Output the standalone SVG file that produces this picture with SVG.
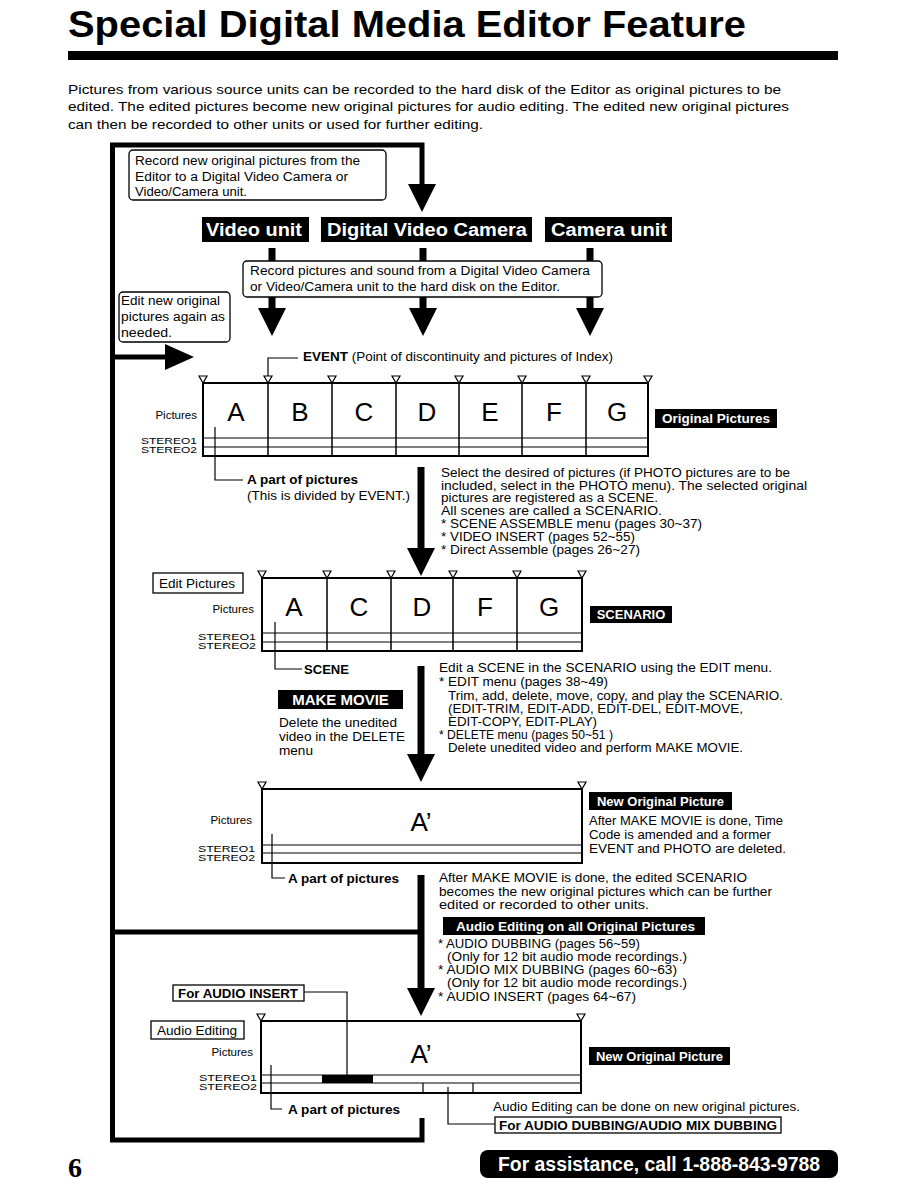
<svg xmlns="http://www.w3.org/2000/svg" width="918" height="1188" viewBox="0 0 918 1188">
<style>
text{font-family:"Liberation Sans",Arial,sans-serif;fill:#000}
.s{font-size:12.5px}
.m{font-size:12.5px}
.p{font-size:13.5px}
.st{font-size:9.5px}
.pic{font-size:11.5px}
.b{font-weight:bold}
.w{fill:#fff;font-weight:bold}
.big{font-size:26px}
.frame{stroke:#000;stroke-width:5;fill:none}
.shaft{stroke:#000;stroke-width:7;fill:none}
.tl{stroke:#000;stroke-width:2;fill:none}
.dv{stroke:#000;stroke-width:1.5;fill:none}
.thin{stroke:#000;stroke-width:1.2;fill:none}
.box{fill:#fff;stroke:#000;stroke-width:1.3}
.blk{fill:#000}
</style>
<defs>
<path id="ah" d="M-14,0 L14,0 L0,28 Z" fill="#000"/>
<path id="tri" d="M-4,-7 L4,-7 L0,0 Z" fill="#fff" stroke="#000" stroke-width="1.2"/>
</defs>

<g id="title">
<text x="68" y="37" font-size="36" font-weight="bold" textLength="678" lengthAdjust="spacingAndGlyphs">Special Digital Media Editor Feature</text>
<rect x="68" y="51" width="770" height="9" class="blk"/>
</g>

<g id="intro">
<text x="68" y="94" class="p" textLength="713" lengthAdjust="spacingAndGlyphs">Pictures from various source units can be recorded to the hard disk of the Editor as original pictures to be</text>
<text x="68" y="111" class="p" textLength="721" lengthAdjust="spacingAndGlyphs">edited. The edited pictures become new original pictures for audio editing. The edited new original pictures</text>
<text x="68" y="129" class="p" textLength="415" lengthAdjust="spacingAndGlyphs">can then be recorded to other units or used for further editing.</text>
</g>

<g id="connectors">
<path class="frame" d="M422,185 V145 H112.5 V1140 H422 V1118"/>
<path class="frame" d="M112.5,932 H421"/>
<path class="frame" d="M112.5,357 H168"/>
<path d="M165,344 L194,357 L165,370 Z" class="blk"/>
<use href="#ah" x="422" y="184"/>
<path class="shaft" d="M272,248 V262 M423,248 V262 M590,248 V262"/>
<path class="shaft" d="M272,297 V310 M423,297 V310 M590,297 V310"/>
<use href="#ah" x="272" y="308"/>
<use href="#ah" x="423" y="308"/>
<use href="#ah" x="590" y="308"/>
<path class="shaft" d="M421,467 V550"/>
<use href="#ah" x="421" y="548"/>
<path class="shaft" d="M421,666 V756"/>
<use href="#ah" x="421" y="754"/>
<path class="shaft" d="M421,875 V990"/>
<use href="#ah" x="421" y="988"/>
<path class="thin" d="M268,377 V358 H298"/>
<path class="thin" d="M215,427 V480 H243"/>
<path class="thin" d="M275,622 V669 H302"/>
<path class="thin" d="M272,834 V878 H285"/>
<path class="thin" d="M304,992 H347 V1075"/>
<path class="thin" d="M271,1065 V1109 H282"/>
<path class="thin" d="M448,1087 V1124 H495"/>
</g>

<g id="note-record-out">
<rect x="129" y="150" width="257" height="50" rx="4" class="box"/>
<text x="135" y="165" class="s" textLength="225" lengthAdjust="spacingAndGlyphs">Record new original pictures from the</text>
<text x="135" y="181" class="s" textLength="213" lengthAdjust="spacingAndGlyphs">Editor to a Digital Video Camera or</text>
<text x="135" y="196" class="s" textLength="112" lengthAdjust="spacingAndGlyphs">Video/Camera unit.</text>
</g>

<g id="video-unit">
<rect x="202" y="217" width="107" height="25" class="blk"/>
<text x="206" y="236" font-size="18" class="w" textLength="96" lengthAdjust="spacingAndGlyphs">Video unit</text>
</g>
<g id="digital-video-camera">
<rect x="321" y="217" width="211" height="25" class="blk"/>
<text x="327" y="236" font-size="18" class="w" textLength="200" lengthAdjust="spacingAndGlyphs">Digital  Video Camera</text>
</g>
<g id="camera-unit">
<rect x="545" y="217" width="127" height="25" class="blk"/>
<text x="551" y="236" font-size="18" class="w" textLength="116" lengthAdjust="spacingAndGlyphs">Camera unit</text>
</g>

<g id="note-record-in">
<rect x="243" y="261" width="359" height="36" rx="4" class="box"/>
<text x="250" y="275" class="s" textLength="340" lengthAdjust="spacingAndGlyphs">Record pictures and sound from a Digital Video Camera</text>
<text x="250" y="291" class="s" textLength="310" lengthAdjust="spacingAndGlyphs">or Video/Camera unit to the hard disk on the Editor.</text>
</g>

<g id="note-edit-again">
<rect x="119" y="292" width="111" height="50" rx="4" class="box"/>
<text x="121" y="305" class="s" textLength="99" lengthAdjust="spacingAndGlyphs">Edit new original</text>
<text x="121" y="321" class="s" textLength="104" lengthAdjust="spacingAndGlyphs">pictures again as</text>
<text x="121" y="337" class="s" textLength="51" lengthAdjust="spacingAndGlyphs">needed.</text>
</g>

<g id="event-label">
<text x="303" y="361" class="s" textLength="310" lengthAdjust="spacingAndGlyphs"><tspan class="b">EVENT</tspan> (Point of discontinuity and pictures of Index)</text>
</g>

<g id="timeline-original">
<rect x="203" y="383" width="445" height="73" class="tl"/>
<path class="dv" d="M268,383 V456 M332,383 V456 M396,383 V456 M459,383 V456 M522,383 V456 M586,383 V456"/>
<path class="thin" d="M203,438 H648 M203,447 H648"/>
<use href="#tri" x="203" y="383"/><use href="#tri" x="268" y="383"/><use href="#tri" x="332" y="383"/><use href="#tri" x="396" y="383"/><use href="#tri" x="459" y="383"/><use href="#tri" x="522" y="383"/><use href="#tri" x="586" y="383"/><use href="#tri" x="648" y="383"/>
<text x="236" y="421" class="big" text-anchor="middle">A</text><text x="300" y="421" class="big" text-anchor="middle">B</text><text x="364" y="421" class="big" text-anchor="middle">C</text><text x="427" y="421" class="big" text-anchor="middle">D</text><text x="490" y="421" class="big" text-anchor="middle">E</text><text x="554" y="421" class="big" text-anchor="middle">F</text><text x="617" y="421" class="big" text-anchor="middle">G</text>
<text x="197" y="419" class="pic" text-anchor="end">Pictures</text>
<text x="141" y="444" class="st" textLength="56" lengthAdjust="spacingAndGlyphs">STEREO1</text>
<text x="141" y="453" class="st" textLength="56" lengthAdjust="spacingAndGlyphs">STEREO2</text>
<text x="247" y="484" class="s b" textLength="111" lengthAdjust="spacingAndGlyphs">A part of pictures</text>
<text x="247" y="500" class="s" textLength="163" lengthAdjust="spacingAndGlyphs">(This is divided by EVENT.)</text>
</g>

<g id="original-pictures">
<rect x="655" y="409" width="122" height="19" class="blk"/>
<text x="716" y="423" font-size="13.5" text-anchor="middle" class="w">Original Pictures</text>
</g>

<g id="select-text">
<text x="441" y="477" class="m" textLength="349" lengthAdjust="spacingAndGlyphs">Select the desired of pictures (if PHOTO pictures are to be</text>
<text x="441" y="490" class="m" textLength="366" lengthAdjust="spacingAndGlyphs">included, select in the PHOTO menu). The selected original</text>
<text x="441" y="502" class="m" textLength="217" lengthAdjust="spacingAndGlyphs">pictures are registered as a SCENE.</text>
<text x="441" y="515" class="m" textLength="221" lengthAdjust="spacingAndGlyphs">All scenes are called a SCENARIO.</text>
<text x="441" y="528" class="m" textLength="261" lengthAdjust="spacingAndGlyphs">* SCENE ASSEMBLE menu (pages 30~37)</text>
<text x="441" y="541" class="m" textLength="194" lengthAdjust="spacingAndGlyphs">* VIDEO INSERT (pages 52~55)</text>
<text x="441" y="554" class="m" textLength="199" lengthAdjust="spacingAndGlyphs">* Direct Assemble (pages 26~27)</text>
</g>

<g id="edit-pictures">
<rect x="153" y="573" width="90" height="20" class="box"/>
<text x="159" y="588" class="m" textLength="76" lengthAdjust="spacingAndGlyphs">Edit Pictures</text>
</g>

<g id="timeline-scenario">
<rect x="262" y="578" width="320" height="73" class="tl"/>
<path class="dv" d="M327,578 V651 M391,578 V651 M453,578 V651 M517,578 V651"/>
<path class="thin" d="M262,633 H582 M262,642 H582"/>
<use href="#tri" x="262" y="578"/><use href="#tri" x="327" y="578"/><use href="#tri" x="391" y="578"/><use href="#tri" x="453" y="578"/><use href="#tri" x="517" y="578"/><use href="#tri" x="582" y="578"/>
<text x="294" y="616" class="big" text-anchor="middle">A</text><text x="359" y="616" class="big" text-anchor="middle">C</text><text x="422" y="616" class="big" text-anchor="middle">D</text><text x="485" y="616" class="big" text-anchor="middle">F</text><text x="549" y="616" class="big" text-anchor="middle">G</text>
<text x="254" y="613" class="pic" text-anchor="end">Pictures</text>
<text x="198" y="640" class="st" textLength="58" lengthAdjust="spacingAndGlyphs">STEREO1</text>
<text x="198" y="649" class="st" textLength="58" lengthAdjust="spacingAndGlyphs">STEREO2</text>
<text x="304" y="674" class="s b" textLength="45" lengthAdjust="spacingAndGlyphs">SCENE</text>
</g>

<g id="scenario">
<rect x="590" y="606" width="82" height="17" class="blk"/>
<text x="631" y="619" font-size="13" text-anchor="middle" class="w">SCENARIO</text>
</g>

<g id="make-movie">
<rect x="278" y="690" width="125" height="19" class="blk"/>
<text x="340.5" y="705" font-size="15" text-anchor="middle" class="w">MAKE MOVIE</text>
<text x="279" y="727" class="m" textLength="118" lengthAdjust="spacingAndGlyphs">Delete the unedited</text>
<text x="279" y="741" class="m" textLength="126" lengthAdjust="spacingAndGlyphs">video in the DELETE</text>
<text x="279" y="755" class="m" textLength="34" lengthAdjust="spacingAndGlyphs">menu</text>
</g>

<g id="edit-text">
<text x="439" y="672" class="m" textLength="333" lengthAdjust="spacingAndGlyphs">Edit a SCENE in the SCENARIO using the EDIT menu.</text>
<text x="439" y="686" class="m" textLength="169" lengthAdjust="spacingAndGlyphs">* EDIT menu (pages 38~49)</text>
<text x="448" y="700" class="m" textLength="335" lengthAdjust="spacingAndGlyphs">Trim, add, delete, move, copy, and play the SCENARIO.</text>
<text x="448" y="713" class="m" textLength="295" lengthAdjust="spacingAndGlyphs">(EDIT-TRIM, EDIT-ADD, EDIT-DEL, EDIT-MOVE,</text>
<text x="448" y="726" class="m" textLength="149" lengthAdjust="spacingAndGlyphs">EDIT-COPY, EDIT-PLAY)</text>
<text x="439" y="739" class="m" textLength="174" lengthAdjust="spacingAndGlyphs">* DELETE menu (pages 50~51 )</text>
<text x="448" y="752" class="m" textLength="295" lengthAdjust="spacingAndGlyphs">Delete unedited video and perform MAKE MOVIE.</text>
</g>

<g id="timeline-new">
<rect x="262" y="789" width="320" height="74" class="tl"/>
<path class="thin" d="M262,845 H582 M262,853 H582"/>
<use href="#tri" x="262" y="789"/><use href="#tri" x="582" y="789"/>
<text x="421" y="831" class="big" text-anchor="middle">A’</text>
<text x="252" y="824" class="pic" text-anchor="end">Pictures</text>
<text x="198" y="852" class="st" textLength="57" lengthAdjust="spacingAndGlyphs">STEREO1</text>
<text x="198" y="861" class="st" textLength="57" lengthAdjust="spacingAndGlyphs">STEREO2</text>
<text x="288" y="883" class="s b" textLength="111" lengthAdjust="spacingAndGlyphs">A part of pictures</text>
</g>

<g id="new-original-1">
<rect x="589" y="792" width="143" height="18" class="blk"/>
<text x="660.5" y="806" font-size="13" text-anchor="middle" class="w">New Original Picture</text>
<text x="589" y="825" class="m" textLength="194" lengthAdjust="spacingAndGlyphs">After MAKE MOVIE is done, Time</text>
<text x="589" y="839" class="m" textLength="182" lengthAdjust="spacingAndGlyphs">Code is amended and a former</text>
<text x="589" y="853" class="m" textLength="197" lengthAdjust="spacingAndGlyphs">EVENT and PHOTO are deleted.</text>
</g>

<g id="after-text">
<text x="439" y="882" class="m" textLength="308" lengthAdjust="spacingAndGlyphs">After MAKE MOVIE is done, the edited SCENARIO</text>
<text x="439" y="896" class="m" textLength="333" lengthAdjust="spacingAndGlyphs">becomes the new original pictures which can be further</text>
<text x="439" y="909" class="m" textLength="210" lengthAdjust="spacingAndGlyphs">edited or recorded to other units.</text>
</g>

<g id="audio-all">
<rect x="443" y="917" width="262" height="18" class="blk"/>
<text x="456" y="931" font-size="13" class="w" textLength="239" lengthAdjust="spacingAndGlyphs">Audio Editing on all Original Pictures</text>
<text x="438" y="948" class="m" textLength="202" lengthAdjust="spacingAndGlyphs">* AUDIO DUBBING (pages 56~59)</text>
<text x="447" y="961" class="m" textLength="240" lengthAdjust="spacingAndGlyphs">(Only for 12 bit audio mode recordings.)</text>
<text x="438" y="974" class="m" textLength="239" lengthAdjust="spacingAndGlyphs">* AUDIO MIX DUBBING (pages 60~63)</text>
<text x="447" y="987" class="m" textLength="240" lengthAdjust="spacingAndGlyphs">(Only for 12 bit audio mode recordings.)</text>
<text x="438" y="1001" class="m" textLength="198" lengthAdjust="spacingAndGlyphs">* AUDIO INSERT (pages 64~67)</text>
</g>

<g id="for-audio-insert">
<rect x="173" y="985" width="131" height="16" class="box"/>
<text x="178" y="998" class="m b" textLength="120" lengthAdjust="spacingAndGlyphs">For AUDIO INSERT</text>
</g>

<g id="audio-editing">
<rect x="151" y="1021" width="93" height="18" class="box"/>
<text x="157" y="1035" class="m" textLength="80" lengthAdjust="spacingAndGlyphs">Audio Editing</text>
</g>

<g id="timeline-audio">
<rect x="261" y="1021" width="320" height="72" class="tl"/>
<path class="thin" d="M261,1075 H581 M261,1083 H581"/>
<rect x="322" y="1075" width="51" height="8" class="blk"/>
<path class="thin" d="M423,1083 V1093 M473,1083 V1093"/>
<use href="#tri" x="261" y="1021"/><use href="#tri" x="581" y="1021"/>
<text x="421" y="1063" class="big" text-anchor="middle">A’</text>
<text x="253" y="1056" class="pic" text-anchor="end">Pictures</text>
<text x="199" y="1081" class="st" textLength="58" lengthAdjust="spacingAndGlyphs">STEREO1</text>
<text x="199" y="1090" class="st" textLength="58" lengthAdjust="spacingAndGlyphs">STEREO2</text>
<text x="288" y="1114" class="s b" textLength="112" lengthAdjust="spacingAndGlyphs">A part of pictures</text>
</g>

<g id="new-original-2">
<rect x="589" y="1047" width="141" height="18" class="blk"/>
<text x="659.5" y="1061" font-size="13" text-anchor="middle" class="w">New Original Picture</text>
</g>

<g id="audio-dubbing">
<text x="493" y="1111" class="m" textLength="307" lengthAdjust="spacingAndGlyphs">Audio Editing can be done on new original pictures.</text>
<rect x="495" y="1117" width="286" height="16" class="box"/>
<text x="499" y="1130" class="m b" textLength="278" lengthAdjust="spacingAndGlyphs">For AUDIO DUBBING/AUDIO MIX DUBBING</text>
</g>

<g id="footer">
<text x="68" y="1177" font-size="28" font-weight="bold" style="font-family:'Liberation Serif',serif">6</text>
<rect x="480" y="1150" width="358" height="28" rx="8" class="blk"/>
<text x="659" y="1171" font-size="20" text-anchor="middle" class="w" textLength="322" lengthAdjust="spacingAndGlyphs">For assistance, call 1-888-843-9788</text>
</g>
</svg>
